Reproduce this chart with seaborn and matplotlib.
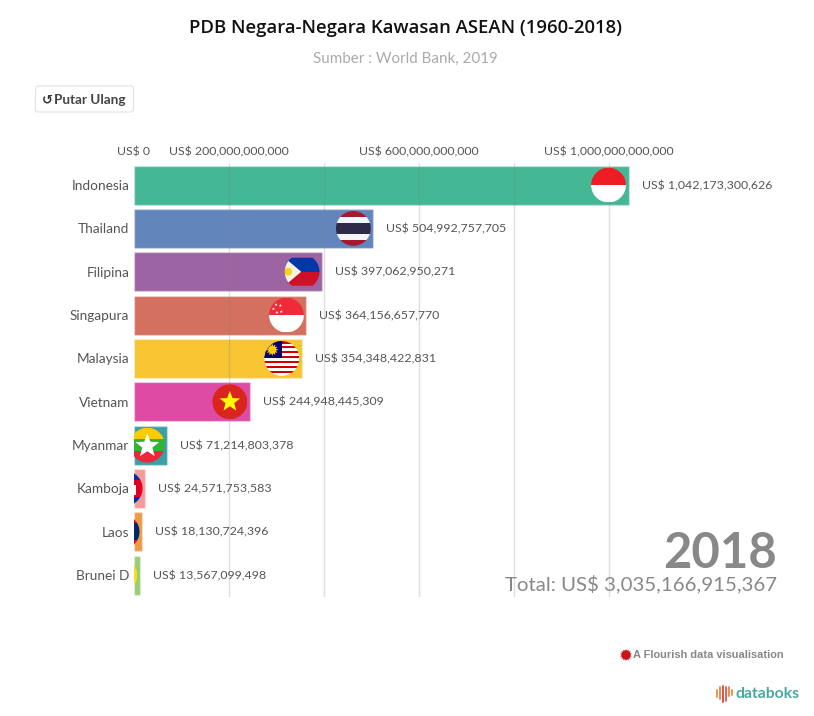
import numpy as np
import pandas as pd
import seaborn as sns
import matplotlib
matplotlib.use("Agg")
import matplotlib.pyplot as plt
from matplotlib.patches import Rectangle, Circle, Polygon, PathPatch, FancyBboxPatch
from matplotlib.path import Path

countries = ["Indonesia", "Thailand", "Filipina", "Singapura", "Malaysia", "Vietnam",
             "Myanmar", "Kamboja", "Laos", "Brunei D"]
values = [1042173300626, 504992757705, 397062950271, 364156657770, 354348422831,
          244948445309, 71214803378, 24571753583, 18130724396, 13567099498]
colors = ["#44B894", "#6286BC", "#9D64A4", "#D47060", "#F6C531", "#DD4BA5",
          "#3B9FA8", "#F79A9A", "#EE9B48", "#98CC76"]
tick_values = [0, 200e9, 400e9, 600e9, 800e9, 1000e9]
tick_labels = ["US$ 0", "US$ 200,000,000,000", "", "US$ 600,000,000,000", "",
               "US$ 1,000,000,000,000"]
title = "PDB Negara-Negara Kawasan ASEAN (1960-2018)"
subtitle = "Sumber : World Bank, 2019"
year_text = "2018"
total_text = "Total: US$ 3,035,166,915,367"

W, H = 814, 716
sns.set_style("white")
plt.rcParams["font.family"] = ["Lato", "DejaVu Sans"]
TXT = "#555555"
px = 0.72

fig = plt.figure(figsize=(W / 100, H / 100), dpi=100, facecolor="white")
ax = fig.add_axes([133.5 / W, 1 - 596.8 / H, 665 / W, (596.8 - 163.4) / H])
df = pd.DataFrame({"country": countries, "value": values})
sns.barplot(data=df, y="country", x="value", hue="country", palette=colors, width=0.9,
            dodge=False, legend=False, saturation=1, ax=ax, edgecolor="#ffffff55", linewidth=1)
ax.set_xlim(0, 1400e9)
ax.set_ylim(9.5, -0.5)
ax.set_xlabel("")
ax.set_ylabel("")
ax.xaxis.tick_top()
ax.set_xticks(tick_values)
ax.set_xticklabels(tick_labels, fontsize=12.4 * px, color=TXT)
ax.tick_params(axis="x", length=0, pad=4.5)
ax.tick_params(axis="y", length=0, pad=3, labelsize=13.6 * px, labelcolor=TXT)
ax.set_axisbelow(False)
ax.grid(axis="x", color="#808080", alpha=0.25, lw=1)
ax.grid(axis="y", visible=False)
ax.xaxis.get_gridlines()[0].set_visible(False)
for s in ax.spines.values():
    s.set_visible(False)
ax.patch.set_alpha(0)

for i, v in enumerate(values):
    ax.annotate(f"US$ {v:,}", xy=(v, i), xytext=(13 * px, -0.5 * px), textcoords="offset points",
                va="center", ha="left", fontsize=12.4 * px, color=TXT)

ov = fig.add_axes([0, 0, 1, 1], zorder=5)
ov.set_xlim(0, W)
ov.set_ylim(H, 0)
ov.axis("off")


def star(cx, cy, r, n=5, ratio=0.42):
    a = -np.pi / 2 + np.arange(2 * n) * np.pi / n
    rr = np.where(np.arange(2 * n) % 2 == 0, r, r * ratio)
    return np.c_[cx + rr * np.cos(a), cy + rr * np.sin(a)]


def stripes(cx, cy, r, spec):
    total = sum(w for w, _ in spec)
    y = cy - r
    out = []
    for w, c in spec:
        h = 2 * r * w / total
        out.append(Rectangle((cx - r, y), 2 * r, h, fc=c, ec="none"))
        y += h
    return out


def flag(name, cx, cy, r=17.4):
    p = []
    if name == "Indonesia":
        p = stripes(cx, cy, r, [(1, "#EE1C25"), (1, "#FFFFFF")])
    elif name == "Thailand":
        p = stripes(cx, cy, r, [(1, "#A51931"), (1, "#F4F5F8"), (2, "#2D2A4A"), (1, "#F4F5F8"), (1, "#A51931")])
    elif name == "Filipina":
        p = stripes(cx, cy, r, [(1, "#0038A8"), (1, "#CE1126")])
        p.append(Polygon([(cx - r, cy - r * .8), (cx - r * .05, cy), (cx - r, cy + r * .8)], fc="#F7F3E3", ec="none"))
        p.append(Circle((cx - r * .8, cy), r * .22, fc="#FCD116", ec="none"))
    elif name == "Singapura":
        p = stripes(cx, cy, r, [(1, "#EF2B3A"), (1, "#FFFFFF")])
        for dx, dy in [(-.75, -.35), (-.6, -.6), (-.35, -.55), (-.55, -.15), (-.3, -.2)]:
            p.append(Polygon(star(cx + dx * r, cy + dy * r, r * .09), fc="white", ec="none"))
    elif name == "Malaysia":
        p = stripes(cx, cy, r, [(1, "#CC0001" if k % 2 == 0 else "#FFFFFF") for k in range(14)])
        p.append(Rectangle((cx - r, cy - r), r, r, fc="#010066", ec="none"))
        p.append(Polygon(star(cx - r * .55, cy - r * .5, r * .36, n=12, ratio=.6), fc="#FFCC00", ec="none"))
    elif name == "Vietnam":
        p = [Rectangle((cx - r, cy - r), 2 * r, 2 * r, fc="#DA251D", ec="none"),
             Polygon(star(cx, cy, r * .62), fc="#FFFF00", ec="none")]
    elif name == "Myanmar":
        p = stripes(cx, cy, r, [(1, "#FECB00"), (1, "#34B233"), (1, "#EA2839")])
        p.append(Polygon(star(cx, cy + r * .05, r * .72), fc="white", ec="none"))
    elif name == "Kamboja":
        p = stripes(cx, cy, r, [(1, "#032EA1"), (2, "#E00025"), (1, "#032EA1")])
        p.append(Rectangle((cx, cy - r * .2), r * .6, r * .55, fc="white", ec="none"))
    elif name == "Laos":
        p = stripes(cx, cy, r, [(1, "#CE1126"), (2, "#002868"), (1, "#CE1126")])
        p.append(Circle((cx, cy), r * .5, fc="white", ec="none"))
    elif name == "Brunei D":
        p = [Rectangle((cx - r, cy - r), 2 * r, 2 * r, fc="#F7E017", ec="none"),
             Polygon([(cx - r, cy - r * .35), (cx + r, cy + r * .55), (cx + r, cy + r * .95), (cx - r, cy + r * .05)], fc="white", ec="none"),
             Polygon([(cx - r, cy + r * .05), (cx + r, cy + r * .95), (cx + r, cy + r * 1.3), (cx - r, cy + r * .4)], fc="#111111", ec="none")]
    t = np.linspace(0, 2 * np.pi, 200)
    xs = np.maximum(cx + r * np.cos(t), 134)
    ys = cy + r * np.sin(t)
    if name == "Filipina":
        ys = np.clip(ys, cy - 14, cy + 14)
    clip = PathPatch(Path(np.c_[xs, ys]), transform=ov.transData, fc="none", ec="none")
    ov.add_patch(clip)
    for a in p:
        ov.add_patch(a)
        a.set_clip_path(clip)


fig.canvas.draw()
inv = ov.transData.inverted()
for i, (c, v) in enumerate(zip(countries, values)):
    x0, y0 = inv.transform(ax.transData.transform((v, i)))
    flag(c, x0 - 20, y0)

ov.text(405.5, 28, title, ha="center", va="center", fontsize=18.5 * px, color="#111111",
        family="Open Sans", weight="semibold")
ov.text(405.5, 58.5, subtitle, ha="center", va="center", fontsize=15.1 * px, color="#aaaaaa")

ov.add_patch(FancyBboxPatch((35.5, 86), 98, 26, boxstyle="round,pad=0,rounding_size=3",
                            fc="white", ec="#e2e2e2", lw=0.8))
ov.text(47, 99.5, "↺", ha="center", va="center", fontsize=13 * px, color="#333333",
        family="DejaVu Sans", weight="bold")
ov.text(54.5, 99.5, "Putar Ulang", ha="left", va="center", fontsize=13.5 * px, color="#444444", weight="bold")

ov.text(777, 553.5, year_text, ha="right", va="center", fontsize=49 * px, color="#888888", weight="bold")
ov.text(777, 584, total_text, ha="right", va="center", fontsize=20.4 * px, color="#888888")

ov.add_patch(Polygon(star(626, 655, 6, n=14, ratio=.72), fc="#C8151B", ec="none"))
ov.text(633, 655.5, "A Flourish data visualisation", ha="left", va="center", fontsize=11 * px,
        color="#888888", family="Liberation Sans", weight="bold")

ov.text(735, 694.5, "databoks", ha="left", va="center", fontsize=15.8 * px, color="#4AA8A0", weight="bold")
for dx, top, bot, c in [(717, 690, 697, "#F0954A"), (720, 687, 699, "#EE8A50"), (723, 686, 702, "#D9534A"),
                        (726, 687, 701, "#E0645A"), (729, 687, 696, "#EE8A50"), (732, 690, 695, "#F0954A")]:
    ov.plot([dx, dx], [top, bot], color=c, lw=1.4, solid_capstyle="round")

fig.savefig("out.png", dpi=100)
